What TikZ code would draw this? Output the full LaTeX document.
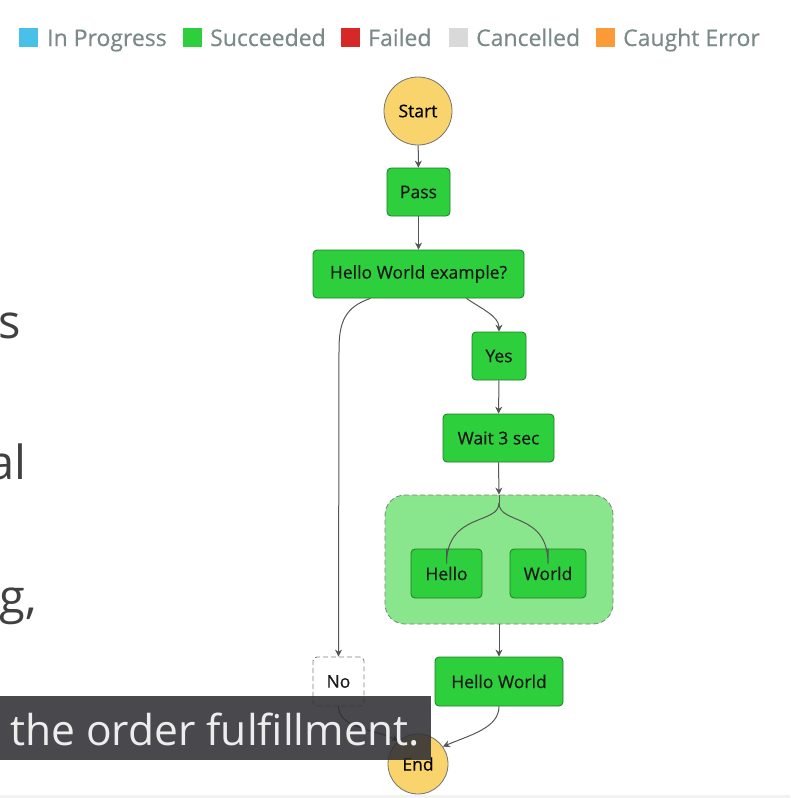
\documentclass[tikz,border=0pt]{standalone}
\usepackage{fontspec}
\setmainfont{Open Sans}
\usetikzlibrary{arrows.meta}
\definecolor{stgreen}{HTML}{2ECF3C}
\definecolor{stgreenb}{HTML}{259B30}
\definecolor{parfill}{HTML}{8AE68C}
\definecolor{startfill}{HTML}{F9D46C}
\definecolor{legtext}{HTML}{7B8A88}
\definecolor{conn}{HTML}{555555}
\definecolor{capbox}{HTML}{2E2E33}
\tikzset{
  state/.style={draw=stgreenb!80!black, fill=stgreen, rounded corners=4pt, line width=0.8pt,
    inner sep=0pt, font=\fontsize{17.5}{19}\selectfont\addfontfeature{FakeBold=0.6}, text=black!90},
  term/.style={circle, draw=black!55, fill=startfill, line width=0.8pt, inner sep=0pt,
    font=\fontsize{17.5}{19}\selectfont\addfontfeature{FakeBold=0.6}},
  conn/.style={draw=conn, line width=1pt},
  arr/.style={conn, -{Stealth[length=7pt,width=7pt]}},
  legsq/.style={minimum size=19pt, inner sep=0pt},
  legtx/.style={anchor=base west, text=legtext, font=\fontsize{23}{25}\selectfont\addfontfeature{FakeBold=0.4}, inner sep=0pt},
  frag/.style={anchor=base east, text=black!75, font=\fontsize{47}{50}\selectfont, inner sep=0pt}
}
\begin{document}
\begin{tikzpicture}[x=1pt,y=-1pt]
\useasboundingbox (0,0) rectangle (790,798);
\fill[white] (0,0) rectangle (790,798);
\fill[black!5] (0,795) rectangle (790,798);
\begin{scope}
\clip (0,0) rectangle (790,798);
% legend
\node[legsq, fill={rgb,255:red,72;green,192;blue,232}] (l1) at (28.5,37.5) {};
\node[legtx] (t1) at (47,46) {In Progress};
\node[legsq, fill=stgreen] (l2) at (192.5,37.5) {};
\node[legtx] (t2) at (210,46) {Succeeded};
\node[legsq, fill={rgb,255:red,215;green,40;blue,40}] (l3) at (350.5,37.5) {};
\node[legtx] (t3) at (368,46) {Failed};
\node[legsq, fill=black!15] (l4) at (458.5,37.5) {};
\node[legtx] (t4) at (476,46) {Cancelled};
\node[legsq, fill={rgb,255:red,250;green,155;blue,55}] (l5) at (605.5,37.5) {};
\node[legtx] (t5) at (623,46) {Caught Error};
% left text fragments
\node[frag] (f1) at (21,338) {s};
\node[frag] (f2) at (27,479) {al};
\node[frag] (f3) at (37,613) {g,};
% parallel box
\node[draw=black!50, dashed, dash pattern=on 5pt off 3pt, fill=parfill, rounded corners=20pt,
  minimum width=228pt, minimum height=129pt, line width=0.8pt] (par) at (499,559.5) {};
% states
\node[term, minimum size=68pt] (start) at (418,111) {Start};
\node[state, minimum width=63pt, minimum height=48pt] (pass) at (418.5,192) {Pass};
\node[state, minimum width=211pt, minimum height=48pt] (hwe) at (418.5,274) {Hello World example?};
\node[state, minimum width=54pt, minimum height=48pt] (yes) at (499,356) {Yes};
\node[state, minimum width=111pt, minimum height=48pt] (wait) at (498.5,438) {Wait 3 sec};
\node[state, minimum width=71pt, minimum height=49pt] (hello) at (446.5,573.5) {Hello};
\node[state, minimum width=76pt, minimum height=49pt] (world) at (548,573.5) {World};
\node[state, minimum width=128pt, minimum height=49pt] (hw) at (499,681.5) {Hello World};
\node[state, draw=black!50, dashed, dash pattern=on 5pt off 3pt, fill=white, minimum width=51pt, minimum height=49pt] (no) at (338.5,681.5) {No};
\node[term, minimum size=60pt] (end) at (418,764) {End};
% connectors
\draw[arr] (start) -- (pass);
\draw[arr] (pass) -- (hwe);
\coordinate (nb) at (339,350);
\draw[arr] ([xshift=-48pt]hwe.south) .. controls (345,307) and (339,322) .. (nb) -- (no.north);
\draw[arr] ([xshift=48pt]hwe.south) .. controls (480,308) and (499,316) .. (yes.north);
\draw[arr] (yes) -- (wait);
\draw[arr] (wait.south) -- (par.north);
\coordinate (fork) at (499,503);
\draw[conn] (par.north) -- (fork);
\draw[conn] (fork) .. controls (499,525) and (447,512) .. ([yshift=-15pt]hello.north) -- (hello.north);
\draw[conn] (fork) .. controls (499,525) and (548,512) .. ([yshift=-15pt]world.north) -- (world.north);
\draw[arr] (par.south) -- (hw.north);
\draw[arr] (no.south) .. controls (339,728) and (370,728) .. (end.130);
\draw[arr] (hw.south) .. controls (499,728) and (470,735) .. (end.35);
% caption overlay
\fill[capbox, opacity=0.87] (0,696) rectangle (431,760);
\node[anchor=base west, inner sep=0pt, text=black!7, font=\fontsize{42.5}{45}\selectfont] (cap) at (10,745) {the order fulfillment.};
\end{scope}
\end{tikzpicture}
\end{document}
